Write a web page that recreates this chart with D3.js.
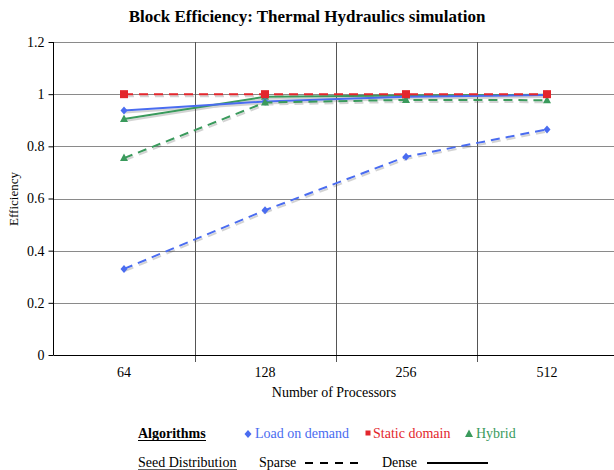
<!DOCTYPE html>
<html><head><meta charset="utf-8">
<script src="https://cdn.jsdelivr.net/npm/d3@7"></script>
<style>body{margin:0;background:#fff}svg text{font-family:"Liberation Serif","DejaVu Serif",serif !important}</style>
</head><body><svg id="c" width="614" height="470"></svg>
<script>
const categories = ["64","128","256","512"];
const yTicks = [0,0.2,0.4,0.6,0.8,1,1.2];
const loadSparse = [0.33,0.555,0.76,0.865];
const loadDense = [0.937,0.972,0.99,0.997];
const staticSparse = [1,1,1,1];
const hybridSparse = [0.755,0.968,0.978,0.977];
const hybridDense = [0.905,0.99,0.995,0.998];
const seriesList = [
  {name:"Hybrid dense", values:hybridDense, color:"#3a9a5c", marker:"tri", dash:null},
  {name:"Load on demand dense", values:loadDense, color:"#4a6cf0", marker:"dia", dash:null},
  {name:"Hybrid sparse", values:hybridSparse, color:"#3a9a5c", marker:"tri", dash:"9,6"},
  {name:"Load on demand sparse", values:loadSparse, color:"#4a6cf0", marker:"dia", dash:"9,6"},
  {name:"Static domain sparse", values:staticSparse, color:"#e3262c", marker:"sq", dash:"9,6"}
];

const svg = d3.select("#c");
const L=53.5, R=617.5, T=42, B=355;
const x = d3.scaleBand().domain(categories).range([L,R]);
const y = d3.scaleLinear().domain([0,1.2]).range([B,T]);

svg.append("text").attr("x",307).attr("y",22).attr("text-anchor","middle")
  .attr("font-weight","bold").attr("font-size",17).text("Block Efficiency: Thermal Hydraulics simulation");

svg.append("g").selectAll("line").data(yTicks.filter(d=>d>0)).join("line")
  .attr("x1",L).attr("x2",R).attr("y1",d=>Math.round(y(d))+0.5).attr("y2",d=>Math.round(y(d))+0.5)
  .attr("stroke","#8a8a8a").attr("stroke-width",1);
const bounds = categories.slice(1).map(c=>x(c));
svg.append("g").selectAll("line").data(bounds).join("line")
  .attr("x1",d=>Math.round(d)+0.5).attr("x2",d=>Math.round(d)+0.5).attr("y1",T).attr("y2",B+7)
  .attr("stroke","#555").attr("stroke-width",1);

const yAxis = d3.axisLeft(y).tickValues(yTicks).tickFormat(d3.format("~g")).tickSize(5).tickPadding(4);
const gy = svg.append("g").attr("transform",`translate(${L},0)`).call(yAxis);
gy.select(".domain").remove();
gy.selectAll("text").attr("font-size",14).attr("fill","#000");
svg.append("line").attr("x1",L).attr("x2",L).attr("y1",T).attr("y2",B).attr("stroke","#000");
const xAxis = d3.axisBottom(x).tickSize(0).tickPadding(12);
const gx = svg.append("g").attr("transform",`translate(0,${B})`).call(xAxis);
gx.select(".domain").remove();
gx.selectAll("text").attr("font-size",14).attr("fill","#000");
svg.append("line").attr("x1",L).attr("x2",R).attr("y1",B+0.5).attr("y2",B+0.5).attr("stroke","#000");

svg.append("text").attr("x",334).attr("y",397).attr("text-anchor","middle").attr("font-size",14).text("Number of Processors");
svg.append("text").attr("transform","translate(18,199) rotate(-90)").attr("text-anchor","middle").attr("font-size",13).text("Efficiency");

const cx = c=>x(c)+x.bandwidth()/2;
const line = d3.line().x((d,i)=>cx(categories[i])).y(d=>y(d));
function marker(g, type, px, py, color, s){
  if(type==="dia") g.append("path").attr("d",`M${px},${py-4}L${px+3.5},${py}L${px},${py+4}L${px-3.5},${py}Z`).attr("fill",color);
  else if(type==="sq") g.append("rect").attr("x",px-s).attr("y",py-s).attr("width",2*s).attr("height",2*s).attr("fill",color);
  else g.append("path").attr("d",`M${px},${py-4.5}L${px+4},${py+3}L${px-4},${py+3}Z`).attr("fill",color);
}
const sh = svg.append("g").attr("opacity",0.25);
seriesList.forEach(s=>{
  sh.append("path").datum(s.values).attr("d",line).attr("transform","translate(1,2)")
    .attr("fill","none").attr("stroke","#555").attr("stroke-width",2).attr("stroke-dasharray",s.dash);
});
const lg = svg.append("g");
seriesList.forEach(s=>{
  lg.append("path").datum(s.values).attr("d",line).attr("fill","none").attr("stroke",s.color)
    .attr("stroke-width",2).attr("stroke-dasharray",s.dash);
  s.values.forEach((v,i)=>marker(lg,s.marker,cx(categories[i]),y(v),s.color,4));
});

const leg = svg.append("g").attr("font-size",14);
leg.append("text").attr("x",138).attr("y",438).attr("font-weight","bold").text("Algorithms");
leg.append("line").attr("x1",138).attr("x2",206).attr("y1",440.5).attr("y2",440.5).attr("stroke","#000");
marker(leg,"dia",248,434,"#4a6cf0",3);
leg.append("text").attr("x",255).attr("y",438).attr("fill","#4a6cf0").text("Load on demand");
marker(leg,"sq",368,433,"#e3262c",2.5);
leg.append("text").attr("x",373).attr("y",438).attr("fill","#e3262c").text("Static domain");
marker(leg,"tri",469,434,"#3a9a5c",3);
leg.append("text").attr("x",476).attr("y",438).attr("fill","#3a9a5c").text("Hybrid");
leg.append("text").attr("x",138).attr("y",467).text("Seed Distribution");
leg.append("line").attr("x1",138).attr("x2",237).attr("y1",469.5).attr("y2",469.5).attr("stroke","#666");
leg.append("text").attr("x",259).attr("y",467).text("Sparse");
leg.append("line").attr("x1",305).attr("x2",360).attr("y1",463).attr("y2",463).attr("stroke","#000").attr("stroke-width",2).attr("stroke-dasharray","8,7");
leg.append("text").attr("x",382).attr("y",467).text("Dense");
leg.append("line").attr("x1",427).attr("x2",488).attr("y1",463).attr("y2",463).attr("stroke","#000").attr("stroke-width",2);
</script></body></html>
